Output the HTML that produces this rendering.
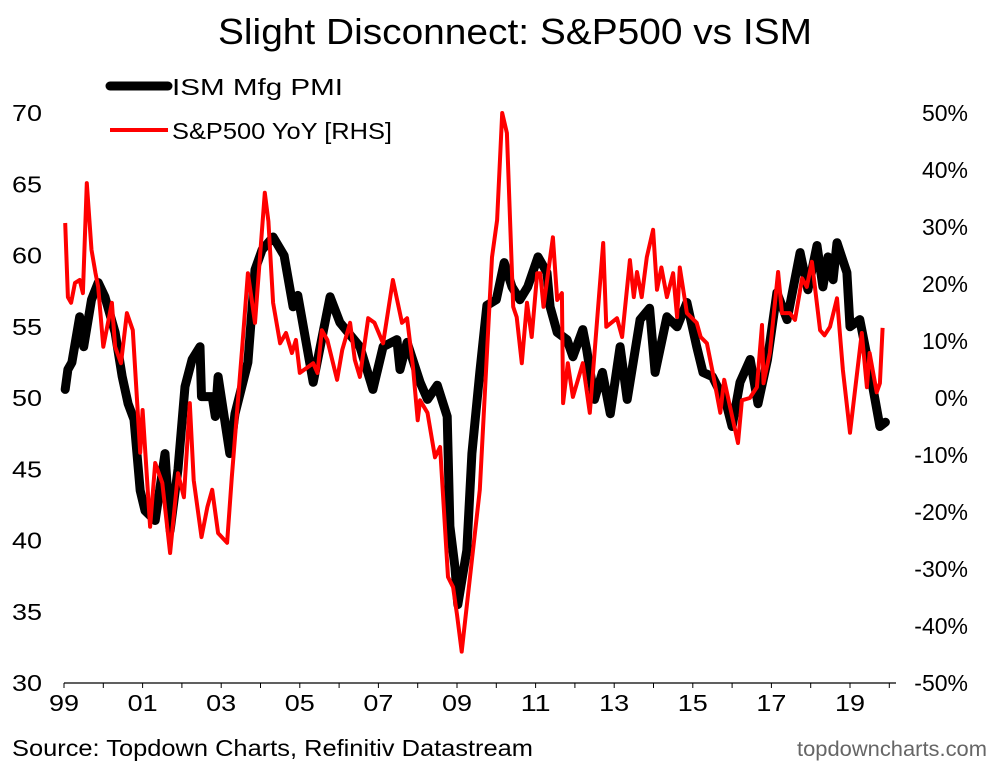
<!DOCTYPE html>
<html><head><meta charset="utf-8"><style>
body{margin:0;background:#fff;}
svg text{font-family:"Liberation Sans",Arial,sans-serif;}
</style></head><body>
<svg id="chart" width="1000" height="772" viewBox="0 0 1000 772">
<text x="218" y="44" font-size="36" textLength="594" lengthAdjust="spacingAndGlyphs" fill="#000">Slight Disconnect: S&amp;P500 vs ISM</text>
<g>
<line x1="110" y1="86" x2="168" y2="86" stroke="#000" stroke-width="9" stroke-linecap="round"/>
<text x="172" y="95" font-size="23" textLength="171" lengthAdjust="spacingAndGlyphs">ISM Mfg PMI</text>
<line x1="110" y1="130" x2="168" y2="130" stroke="#f00" stroke-width="4"/>
<text x="172" y="139" font-size="23" textLength="220" lengthAdjust="spacingAndGlyphs">S&amp;P500 YoY [RHS]</text>
</g>
<g id="axes"></g>
<g id="series"></g>
<text x="12" y="756" font-size="23" textLength="521" lengthAdjust="spacingAndGlyphs">Source: Topdown Charts, Refinitiv Datastream</text>
<text x="797" y="756" font-size="21" textLength="190" lengthAdjust="spacingAndGlyphs" fill="#666">topdowncharts.com</text>
</svg>
<script>
const leftTicks=[30,35,40,45,50,55,60,65,70];
const rightTicks=[-50,-40,-30,-20,-10,0,10,20,30,40,50];
const xTickYears=[1999,2001,2003,2005,2007,2009,2011,2013,2015,2017,2019];
const xTickLabels=["99","01","03","05","07","09","11","13","15","17","19"];
const ismDates=[1999.03,1999.1,1999.2,1999.4,1999.5,1999.7,1999.87,2000.04,2000.3,2000.48,2000.63,2000.78,2000.94,2001.06,2001.32,2001.57,2001.7,2001.9,2002.08,2002.26,2002.46,2002.5,2002.77,2002.85,2002.92,2003.22,2003.35,2003.68,2003.86,2004.04,2004.32,2004.6,2004.83,2004.95,2005.34,2005.77,2006.02,2006.53,2006.86,2007.12,2007.47,2007.55,2007.73,2008.06,2008.25,2008.5,2008.75,2008.82,2008.95,2009.02,2009.25,2009.38,2009.58,2009.76,2010.0,2010.2,2010.4,2010.6,2010.8,2011.06,2011.29,2011.37,2011.55,2011.8,2011.95,2012.2,2012.3,2012.5,2012.7,2012.9,2013.15,2013.33,2013.66,2013.9,2014.04,2014.34,2014.6,2014.85,2015.1,2015.26,2015.5,2015.7,2015.87,2016.0,2016.2,2016.46,2016.66,2016.9,2017.14,2017.4,2017.73,2017.93,2018.16,2018.31,2018.44,2018.57,2018.67,2018.92,2019.0,2019.25,2019.5,2019.76,2019.9];
const ismValues=[50.6,52,52.5,55.7,53.6,56.9,58.1,57.1,54.6,51.5,49.6,48.5,43.5,42.1,41.4,46.1,40.7,45,50.8,52.7,53.6,50.1,50.1,48.7,51.5,46.1,48.9,52.5,59,60.4,61.3,60,56.4,57.2,51.1,57.1,55.3,53.6,50.6,53.6,54.1,52,53.9,51.1,49.9,50.9,48.7,41,38.1,35.5,39.3,46.1,51.8,56.5,56.9,59.5,57.8,56.9,57.8,59.9,58.8,56.4,54.6,54.1,52.9,54.8,53.4,49.9,51.8,48.9,53.6,49.9,55.5,56.3,51.8,55.7,55,56.7,53.6,51.8,51.5,50.4,49.4,48,51.1,52.7,49.6,52.7,57.4,55.5,60.2,57.6,60.7,57.8,59.9,58.3,60.9,58.8,55,55.5,52,48,48.3];
const spxDates=[1999.03,1999.1,1999.18,1999.28,1999.4,1999.48,1999.58,1999.7,1999.8,1999.87,2000.0,2000.22,2000.3,2000.45,2000.6,2000.75,2000.94,2001.0,2001.19,2001.32,2001.5,2001.7,2001.9,2002.05,2002.2,2002.3,2002.5,2002.65,2002.77,2002.92,2003.15,2003.27,2003.53,2003.68,2003.86,2004.11,2004.2,2004.32,2004.5,2004.65,2004.8,2004.9,2005.0,2005.34,2005.45,2005.56,2005.7,2005.95,2006.08,2006.28,2006.4,2006.53,2006.74,2006.9,2007.12,2007.37,2007.6,2007.73,2007.88,2008.0,2008.06,2008.25,2008.44,2008.57,2008.77,2008.9,2009.0,2009.12,2009.38,2009.58,2009.79,2009.89,2010.02,2010.15,2010.27,2010.43,2010.52,2010.65,2010.78,2010.9,2011.04,2011.12,2011.2,2011.44,2011.55,2011.67,2011.7,2011.82,2011.95,2012.2,2012.38,2012.72,2012.8,2013.07,2013.2,2013.4,2013.5,2013.58,2013.7,2013.83,2013.99,2014.09,2014.2,2014.34,2014.5,2014.6,2014.67,2014.85,2015.1,2015.2,2015.36,2015.51,2015.7,2015.8,2015.95,2016.15,2016.25,2016.45,2016.63,2016.76,2016.8,2016.96,2017.17,2017.27,2017.47,2017.6,2017.78,2017.9,2018.03,2018.24,2018.35,2018.49,2018.67,2018.82,2019.0,2019.3,2019.43,2019.5,2019.68,2019.76,2019.83];
const spxValues=[30.7,17.7,16.7,20.2,20.7,18.4,37.7,26,22,19.5,9,16.7,9,6.1,14.9,11.9,-9.6,-2.1,-22.6,-11.4,-14.9,-27.2,-13.2,-17.4,-0.9,-14.4,-24.4,-19.1,-16.1,-23.7,-25.4,-13.9,8.4,21.9,13.2,36,31,16.7,9.6,11.4,7.9,10.2,4.4,6.1,4.4,11.9,10.2,3.2,8.4,13.2,6.7,3.7,14,13.2,9.6,20.7,13.2,14,5.4,-3.9,-0.4,-2.6,-10.4,-8.6,-31.4,-33.2,-38,-44.5,-28.4,-16.1,11.4,24.7,31.2,50,46.5,16,14.2,6.1,16.7,10.7,21.9,21.9,16,28.2,17.2,18.4,-0.9,6.1,0.2,6.1,-2.6,27.2,12.5,14,10.7,24.2,17.7,22.1,17.7,24.7,29.5,19,22.9,17.7,21.9,14.2,22.9,14.9,13.2,10.7,9.6,4.4,-2.6,3.2,-1.6,-7.9,-0.4,0,1.9,12.8,2.6,7.9,22.1,14.9,14.9,13.7,21,19.5,23.9,11.9,11,12.5,17.5,4.9,-6.1,11.4,1.9,7.9,1,2.6,12.3];

const X0=64,PX_YR=39.3,TOP=113,BOT=683;
function xs(yr){return X0+(yr-1999)*PX_YR;}
function yl(v){return BOT-(v-30)/40*(BOT-TOP);}
function yr(v){return BOT-(v+50)/100*(BOT-TOP);}
const NS="http://www.w3.org/2000/svg";
const axes=document.getElementById('axes'),series=document.getElementById('series');
function mk(tag,attrs,parent,txt){const e=document.createElementNS(NS,tag);for(const k in attrs)e.setAttribute(k,attrs[k]);if(txt!==undefined)e.textContent=txt;parent.appendChild(e);return e;}

let e=mk('line',{x1:X0,y1:BOT,x2:896,y2:BOT,stroke:'#000','stroke-width':1.2},axes);


for(let i=0;i<leftTicks.length;i++){
  const t=mk('text',{x:12,y:yl(leftTicks[i])+8,'font-size':23,textLength:30,lengthAdjust:'spacingAndGlyphs'},axes,String(leftTicks[i]));
  
  
}
for(let i=0;i<rightTicks.length;i++){
  const t=mk('text',{x:968,y:yr(rightTicks[i])+8,'font-size':23,'text-anchor':'end'},axes,rightTicks[i]+'%');
  
  
}
for(let y=1999;y<=2020;y++){
  const tk=mk('line',{x1:xs(y),y1:BOT,x2:xs(y),y2:BOT+5,stroke:'#000','stroke-width':1},axes);
  
  
}
for(let i=0;i<xTickYears.length;i++){
  const t=mk('text',{x:xs(xTickYears[i])-15,y:711,'font-size':23,textLength:30,lengthAdjust:'spacingAndGlyphs'},axes,xTickLabels[i]);
  
  
}
const ismPts=ismDates.map((d,i)=>xs(d).toFixed(1)+','+yl(ismValues[i]).toFixed(1)).join(' ');
const ism=mk('polyline',{points:ismPts,fill:'none',stroke:'#000','stroke-width':9,'stroke-linejoin':'round','stroke-linecap':'round'},series);


const spxPts=spxDates.map((d,i)=>xs(d).toFixed(1)+','+yr(spxValues[i]).toFixed(1)).join(' ');
const spx=mk('polyline',{points:spxPts,fill:'none',stroke:'#f00','stroke-width':4,'stroke-linejoin':'round'},series);


</script>
</body></html>
